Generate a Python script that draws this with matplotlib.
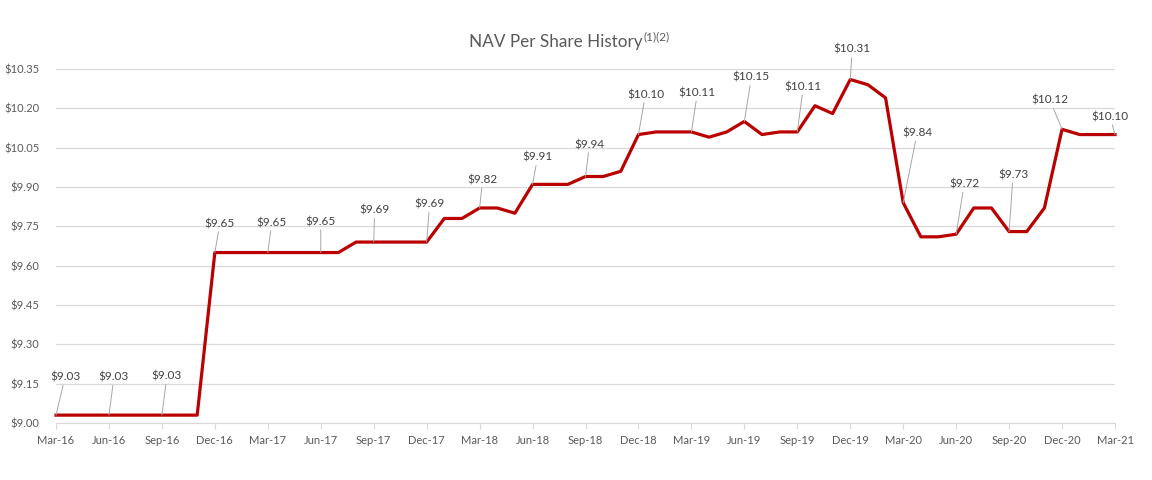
import matplotlib
matplotlib.use("Agg")
import matplotlib.pyplot as plt
import numpy as np

plt.rcParams['font.family'] = ['Lato', 'DejaVu Sans']

# monthly NAV, Mar-16 .. Mar-21
nav = [9.03, 9.03, 9.03, 9.03, 9.03, 9.03, 9.03, 9.03, 9.03,   # Mar-16 .. Nov-16
       9.65, 9.65, 9.65, 9.65, 9.65, 9.65, 9.65, 9.65,         # Dec-16 .. Jul-17
       9.69, 9.69, 9.69, 9.69, 9.69,                           # Aug-17 .. Dec-17
       9.78, 9.78, 9.82, 9.82, 9.80,                           # Jan-18 .. May-18
       9.91, 9.91, 9.91, 9.94, 9.94, 9.96,                     # Jun-18 .. Nov-18
       10.10, 10.11, 10.11, 10.11, 10.09, 10.11,               # Dec-18 .. May-19
       10.15, 10.10, 10.11, 10.11, 10.21, 10.18,               # Jun-19 .. Nov-19
       10.31, 10.29, 10.24, 9.84, 9.71, 9.71,                  # Dec-19 .. May-20
       9.72, 9.82, 9.82, 9.73, 9.73, 9.82,                     # Jun-20 .. Nov-20
       10.12, 10.10, 10.10, 10.10]                             # Dec-20 .. Mar-21

tick_labels = ['Mar-16', 'Jun-16', 'Sep-16', 'Dec-16', 'Mar-17', 'Jun-17', 'Sep-17',
               'Dec-17', 'Mar-18', 'Jun-18', 'Sep-18', 'Dec-18', 'Mar-19', 'Jun-19',
               'Sep-19', 'Dec-19', 'Mar-20', 'Jun-20', 'Sep-20', 'Dec-20', 'Mar-21']

# label offsets (pixels) for each quarterly data label
label_dx = [9, 5, 5, 5, 4, 0, 1, 3, 3, 5, 4, 7, 6, 7, 6, 2, 14, 8, 4, -12, -5]
label_dy = [38, 38, 39, 29, 30, 31, 32, 38, 28, 27, 32, 40, 39, 44, 45, 30, 70, 50, 57, 29, 18]

x = np.arange(len(nav))

fig = plt.figure(figsize=(11.52, 4.8), dpi=100)
ax = fig.add_axes([56 / 1152, 57 / 480, (1115 - 56) / 1152, (423 - 69) / 480])

ax.plot(x, nav, color='#bb0000', lw=2.3, solid_joinstyle='round', zorder=3, clip_on=False)

ax.set_xlim(0, len(nav) - 1)
ax.set_ylim(9.0, 10.35)
yt = np.arange(9.0, 10.351, 0.15)
ax.set_yticks(yt)
ax.set_yticklabels(['${:.2f}'.format(v) for v in yt])
qx = np.arange(0, len(nav), 3)
ax.set_xticks(qx)
ax.set_xticklabels(tick_labels)

ax.grid(axis='y', color='#d9d9d9', lw=0.9)
ax.set_axisbelow(True)
for s in ['top', 'right', 'left']:
    ax.spines[s].set_visible(False)
ax.spines['bottom'].set_color('#d9d9d9')
ax.tick_params(axis='y', length=0, labelsize=8, labelcolor='#595959', pad=12)
ax.tick_params(axis='x', length=4, color='#d9d9d9', labelsize=8, labelcolor='#595959', pad=5)

for i, q in enumerate(qx):
    ax.annotate('${:.2f}'.format(nav[q]), xy=(q, nav[q]),
                xytext=(label_dx[i], label_dy[i]), textcoords='offset pixels',
                ha='center', va='center', fontsize=8.5, color='#404040',
                arrowprops=dict(arrowstyle='-', color='#a6a6a6', lw=0.7,
                                shrinkA=0, shrinkB=0),
                zorder=4, annotation_clip=False)

fig.text(556 / 1152, 1 - 42 / 480, 'NAV Per Share History', ha='center', va='center',
         fontsize=12.3, color='#595959')
fig.text(644 / 1152, 1 - 37 / 480, '(1)(2)', ha='left', va='center',
         fontsize=8.5, color='#595959')

fig.savefig('out.png', dpi=100, facecolor='white')
